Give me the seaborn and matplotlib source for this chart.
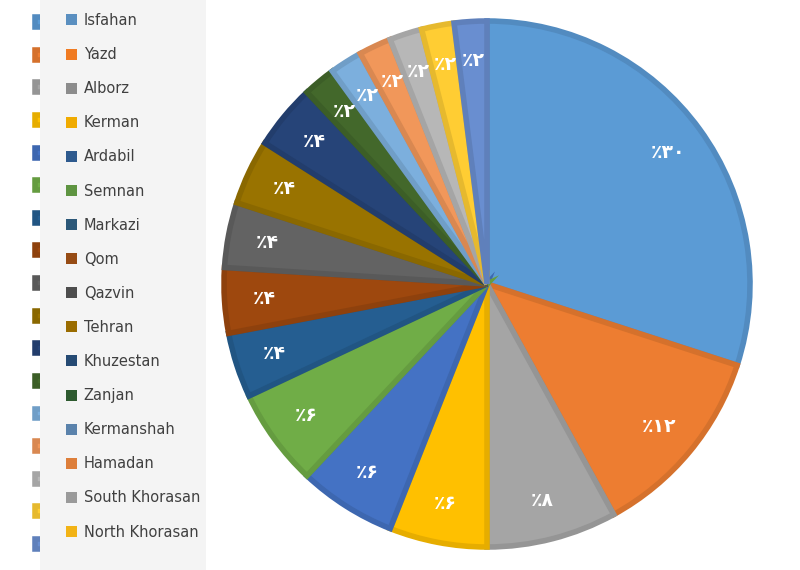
import numpy as np
import matplotlib
matplotlib.use("Agg")
from matplotlib import pyplot as plt
from matplotlib.patches import Patch, Rectangle
import seaborn as sns

# province names shown in the legend panel
provinces = ["Isfahan", "Yazd", "Alborz", "Kerman", "Ardabil", "Semnan", "Markazi",
             "Qom", "Qazvin", "Tehran", "Khuzestan", "Zanjan", "Kermanshah",
             "Hamadan", "South Khorasan", "North Khorasan"]
# slice shares (percent), clockwise from 12 o'clock
shares = [30, 12, 8, 6, 6, 6, 4, 4, 4, 4, 4, 2, 2, 2, 2, 2, 2]

pie_colors = ["#5B9BD5", "#ED7D31", "#A5A5A5", "#FFC000", "#4472C4", "#70AD47",
              "#255E91", "#9E480E", "#636363", "#997300", "#264478", "#43682B",
              "#7CAFDD", "#F1975A", "#B7B7B7", "#FFCD33", "#698ED0"]
legend_colors = ["#5A8FC0", "#F07B22", "#8C8C8C", "#F0AB00", "#2E5A8E", "#5E9441",
                 "#2B5778", "#964B14", "#4D4D4D", "#9A6C00", "#254A73", "#2D5A2F",
                 "#5A82AB", "#DD7E3A", "#9A9A9A", "#F2B315"]

fa_digits = str.maketrans("0123456789", "۰۱۲۳۴۵۶۷۸۹")

sns.set_theme(style="white")
plt.rcParams['font.family'] = ['DejaVu Sans']

fig = plt.figure(figsize=(8, 5.7), dpi=100)
fig.patch.set_facecolor("white")

R = 263
cx, cy = 487, 284
ax = fig.add_axes([(cx - R) / 800, (570 - cy - R) / 570, 2 * R / 800, 2 * R / 570])

pal = sns.color_palette(pie_colors)
edges = [tuple(np.array(c) * 0.9) for c in pal]
wedges, texts, autotexts = ax.pie(
    shares, colors=pal, startangle=90, counterclock=False,
    autopct=lambda p: "٪" + str(int(round(p))).translate(fa_digits),
    pctdistance=0.85,
    wedgeprops=dict(linewidth=4, edgecolor="none"),
    textprops=dict(color="white", fontsize=13.5, fontweight="bold"))
for w, e in zip(wedges, edges):
    w.set_edgecolor(e)
    w.set_clip_on(False)
ax.set_xlim(-1, 1)
ax.set_ylim(-1, 1)
ax.axis("off")

# the chart's own legend, mostly covered by the panel
leg1 = fig.legend(wedges, [""] * len(wedges), loc="upper left",
                  bbox_to_anchor=(35 / 800, 1 - 16 / 570), frameon=False,
                  fontsize=10, handlelength=0.72, handleheight=0.72,
                  labelspacing=1.34, borderpad=0, borderaxespad=0, handletextpad=0.3)

# grey legend panel
fig.patches.append(Rectangle((40 / 800, 0), 166 / 800, 1, transform=fig.transFigure,
                             facecolor="#F4F4F4", edgecolor="none", zorder=6))

handles = [Patch(facecolor=c, edgecolor="none") for c in legend_colors]
leg2 = fig.legend(handles, provinces, loc="upper left",
                  bbox_to_anchor=(66 / 800, 1 - 13 / 570), frameon=False,
                  fontsize=10.5, handlelength=0.76, handleheight=0.78,
                  labelspacing=1.31, borderpad=0, borderaxespad=0, handletextpad=0.45,
                  labelcolor="#404040")
leg2.set_zorder(7)

fig.savefig("out.png", dpi=100, facecolor="white")
